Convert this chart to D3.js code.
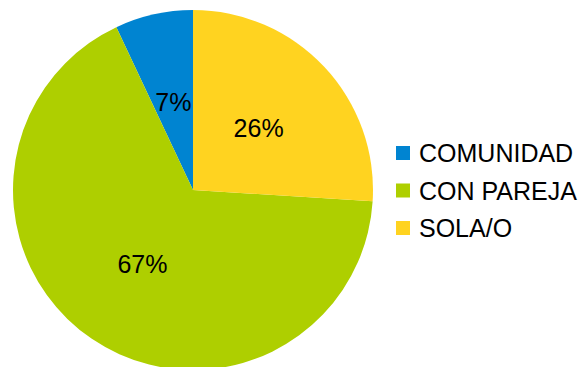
<!DOCTYPE html>
<html>
<head>
<meta charset="utf-8">
<script src="https://cdn.jsdelivr.net/npm/d3@7"></script>
<style>
  html, body { margin: 0; padding: 0; background: #fff; }
  svg { display: block; }
  text { font-family: "Liberation Sans", Arial, sans-serif; fill: #000; }
</style>
</head>
<body>
<svg id="chart" width="587" height="367"></svg>
<script>
// Living arrangement shares (%)
const categories = ["COMUNIDAD", "CON PAREJA", "SOLA/O"];
const values = [7, 67, 26];
const colors = ["#0084d1", "#aecf00", "#ffd320"];

const width = 587, height = 367;
const cx = 193, cy = 190, radius = 180;

const svg = d3.select("#chart");

const color = d3.scaleOrdinal().domain(categories).range(colors);

// Slices run counter-clockwise from 12 o'clock in data order
const pie = d3.pie()
  .sort(null)
  .value(d => d.value)
  .startAngle(0)
  .endAngle(-2 * Math.PI);

const data = categories.map((c, i) => ({ name: c, value: values[i] }));
const arcs = pie(data);

const arc = d3.arc().innerRadius(0).outerRadius(radius);
const labelArc = d3.arc().innerRadius(radius * 0.5).outerRadius(radius * 0.5);

const g = svg.append("g").attr("transform", `translate(${cx},${cy})`);

g.selectAll("path.slice")
  .data(arcs)
  .join("path")
  .attr("class", "slice")
  .attr("d", arc)
  .attr("fill", d => color(d.data.name));

const total = d3.sum(values);
g.selectAll("text.pct")
  .data(arcs)
  .join("text")
  .attr("class", "pct")
  .attr("transform", d => {
    const [x, y] = labelArc.centroid(d);
    return `translate(${x},${y})`;
  })
  .attr("text-anchor", "middle")
  .attr("dy", "0.36em")
  .style("font-size", "25px")
  .text(d => Math.round(d.data.value / total * 100) + "%");

// Legend
const legendY = d3.scalePoint().domain(categories).range([153, 228]);
const legend = svg.append("g").selectAll("g")
  .data(categories)
  .join("g")
  .attr("transform", d => `translate(396,${legendY(d)})`);

legend.append("rect")
  .attr("x", 0)
  .attr("y", -7)
  .attr("width", 14)
  .attr("height", 14)
  .attr("fill", d => color(d));

legend.append("text")
  .attr("x", 23)
  .attr("dy", "0.36em")
  .style("font-size", "25px")
  .text(d => d);
</script>
</body>
</html>
